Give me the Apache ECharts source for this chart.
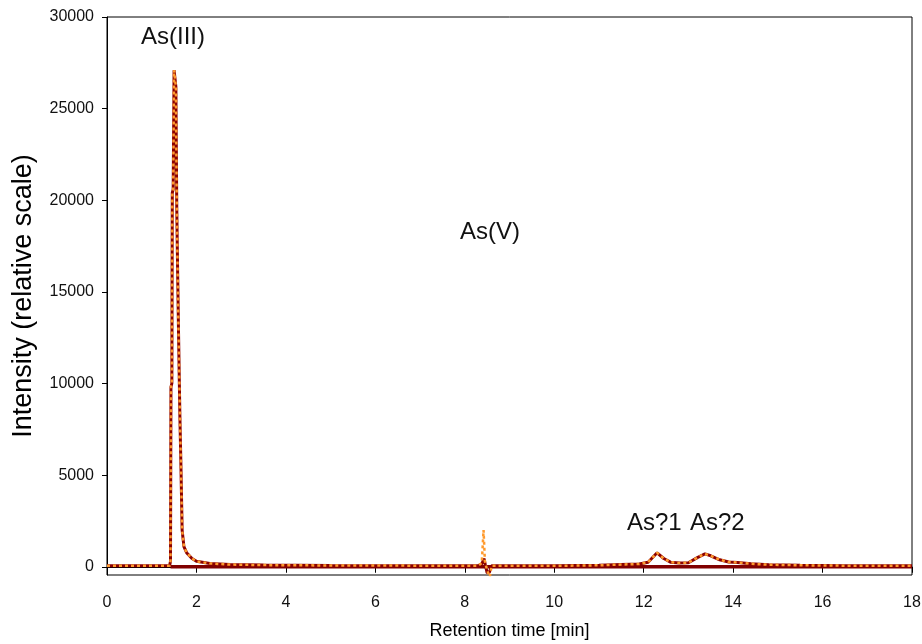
<!DOCTYPE html>
<html>
<head>
<meta charset="utf-8">
<script src="https://cdn.jsdelivr.net/npm/echarts@6/dist/echarts.min.js"></script>
<style>
  html, body { margin: 0; padding: 0; background: #fff; }
  #main { width: 922px; height: 644px; }
</style>
</head>
<body>
<div id="main"></div>
<script>
// retention time [min] and intensity
var sampleTrace = [
  [0, 60], [1.0, 60], [1.40, 60], [1.42, 300], [1.43, 9800], [1.45, 10000],
  [1.46, 20400], [1.48, 20600], [1.50, 27100], [1.54, 26200], [1.56, 19600],
  [1.58, 16000], [1.60, 12700], [1.63, 8200], [1.655, 5300], [1.68, 2000],
  [1.72, 1100], [1.78, 770], [1.9, 450], [2.0, 300], [2.3, 180], [2.75, 120],
  [3.5, 90], [5, 70], [7, 60], [8.3, 60], [8.38, 150], [8.43, 450], [8.46, 100],
  [8.5, -330], [8.55, -300], [8.6, 50], [9, 50], [10, 50], [11, 80], [11.5, 120],
  [11.9, 150], [12.1, 250], [12.3, 760], [12.45, 450], [12.6, 250], [12.8, 200],
  [13.0, 220], [13.2, 500], [13.37, 700], [13.5, 600], [13.7, 380], [13.9, 260],
  [14.1, 230], [14.4, 160], [14.8, 110], [15.5, 80], [16.5, 60], [18, 60]
];
var referenceTrace = [
  [0, 60], [1.0, 60], [1.40, 60], [1.42, 300], [1.43, 9800], [1.45, 10000],
  [1.46, 20400], [1.48, 20600], [1.50, 27100], [1.54, 26200], [1.56, 19600],
  [1.58, 16000], [1.60, 12700], [1.63, 8200], [1.655, 5300], [1.68, 2000],
  [1.72, 1100], [1.78, 770], [1.9, 450], [2.0, 300], [2.3, 180], [2.75, 120],
  [3.5, 90], [5, 70], [7, 60], [8.3, 60], [8.38, 200], [8.42, 2000], [8.45, 300],
  [8.5, -200], [8.56, -550], [8.6, 50], [9, 50], [10, 50], [11, 80], [11.5, 120],
  [11.9, 150], [12.1, 250], [12.3, 760], [12.45, 450], [12.6, 250], [12.8, 200],
  [13.0, 220], [13.2, 500], [13.37, 700], [13.5, 600], [13.7, 380], [13.9, 260],
  [14.1, 230], [14.4, 160], [14.8, 110], [15.5, 80], [16.5, 60], [18, 60]
];
var baseline = [[1.42, 0], [18, 0]];
var yTicks = [0, 5000, 10000, 15000, 20000, 25000, 30000];

var myChart = echarts.init(document.getElementById('main'));
var font = 'Liberation Sans, Arial, sans-serif';
var option = {
  animation: false,
  grid: {
    left: 107, right: 10, top: 17, bottom: 69,
    outerBoundsMode: 'none',
    containLabel: false,
    show: true, borderColor: '#000', borderWidth: 1
  },
  xAxis: {
    type: 'value',
    min: 0, max: 18, interval: 2,
    name: 'Retention time [min]',
    nameLocation: 'middle',
    nameGap: 47,
    nameTextStyle: { fontFamily: font, fontSize: 18, color: '#000' },
    axisLine: { lineStyle: { color: '#000', width: 1 } },
    axisTick: { inside: false, length: 6, lineStyle: { color: '#000' } },
    axisLabel: { fontFamily: font, fontSize: 16, color: '#111', margin: 20 },
    splitLine: { show: false }
  },
  yAxis: {
    type: 'value',
    min: -450, max: 30000,
    name: 'Intensity (relative scale)',
    nameLocation: 'middle',
    nameGap: 70,
    nameTextStyle: { fontFamily: font, fontSize: 27, color: '#000' },
    axisLine: { show: true, lineStyle: { color: '#000', width: 1 } },
    axisTick: { show: true, length: 5, customValues: yTicks, lineStyle: { color: '#000' } },
    axisLabel: {
      fontFamily: font, fontSize: 16, color: '#111', margin: 13, customValues: yTicks,
      formatter: function (v) { return String(v); }
    },
    splitLine: { show: false }
  },
  graphic: [
    { type: 'text', left: 141, top: 25, style: { text: 'As(III)', fontFamily: font, fontSize: 24, fill: '#111' } },
    { type: 'text', left: 460, top: 220, style: { text: 'As(V)', fontFamily: font, fontSize: 24, fill: '#111' } },
    { type: 'text', left: 627, top: 511, style: { text: 'As?1', fontFamily: font, fontSize: 24, fill: '#111' } },
    { type: 'text', left: 690, top: 511, style: { text: 'As?2', fontFamily: font, fontSize: 24, fill: '#111' } }
  ],
  series: [
    {
      name: 'baseline', type: 'line', data: baseline, symbol: 'none',
      lineStyle: { color: '#800000', width: 3.5 }, z: 1
    },
    {
      name: 'sample', type: 'line', data: sampleTrace, symbol: 'none',
      lineStyle: { color: '#8b0000', width: 3 }, z: 2
    },
    {
      name: 'reference', type: 'line', data: referenceTrace, symbol: 'none',
      lineStyle: { color: '#ff9a2e', width: 2.5, type: [3, 3] }, z: 3
    }
  ]
};
myChart.setOption(option);
</script>
</body>
</html>
